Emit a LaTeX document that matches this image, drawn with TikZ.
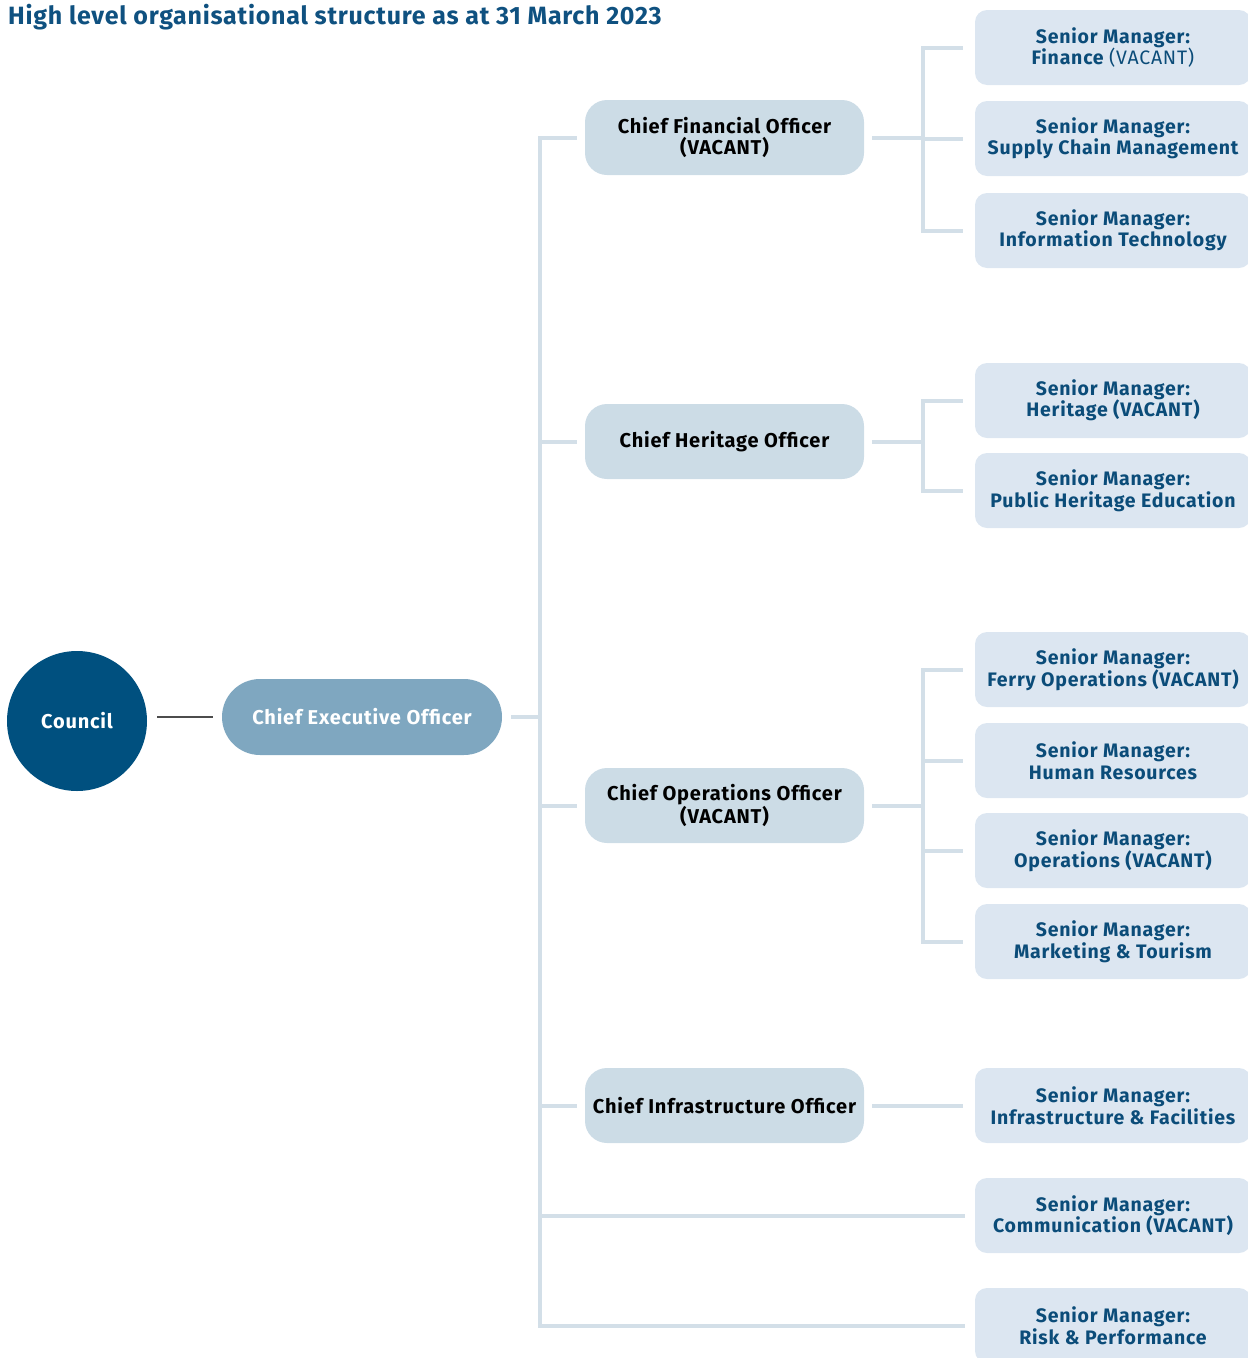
\documentclass[tikz,border=0pt]{standalone}
\usepackage{fontspec}
\setmainfont{Fira Sans}
\newfontfamily\orgfont[LetterSpace=4]{Fira Sans}
\newfontfamily\titlefont[LetterSpace=3]{Fira Sans}
\usepackage{tikz}
\usetikzlibrary{positioning}
\definecolor{navy}{HTML}{00507F}
\definecolor{ceoblue}{HTML}{7FA7C0}
\definecolor{chieffill}{HTML}{CCDCE6}
\definecolor{smfill}{HTML}{DCE6F1}
\definecolor{smtext}{HTML}{0B4C79}
\definecolor{linkcol}{HTML}{D3DFE8}
\definecolor{titleblue}{HTML}{0F5180}

\begin{document}
\begin{tikzpicture}[x=1pt, y=-1pt,
  chief/.style={fill=chieffill, rounded corners=22pt, minimum width=279pt, minimum height=75pt, inner sep=0pt, align=center, font=\orgfont\bfseries\fontsize{20}{21.5}\selectfont},
  senior/.style={fill=smfill, rounded corners=12pt, minimum width=276pt, minimum height=75pt, inner sep=0pt, align=center, text=smtext, font=\orgfont\bfseries\fontsize{19.5}{21.5}\selectfont},
  link/.style={draw=linkcol, line width=4pt}]
\useasboundingbox (0,0) rectangle (1248,1358);
\node[anchor=base west, inner sep=0pt, text=titleblue, font=\titlefont\bfseries\fontsize{25}{28}\selectfont] (title) at (8,24) {High level organisational structure as at 31 March 2023};

% left part
\node[circle, fill=navy, minimum size=140pt, inner sep=0pt, text=white, font=\orgfont\bfseries\fontsize{20}{22}\selectfont] (council) at (77,721) {Council};
\node[fill=ceoblue, rounded corners=38pt, minimum width=280pt, minimum height=76pt, inner sep=0pt, text=white, font=\orgfont\bfseries\fontsize{20}{22}\selectfont] (ceo) at (362,717) {Chief Executive Officer};

% chiefs
\node[chief] (cfo) at (724.5,137.5) {Chief Financial Officer\\(VACANT)};
\node[chief] (cho) at (724.5,441.5) {Chief Heritage Officer};
\node[chief] (coo) at (724.5,805.5) {Chief Operations Officer\\(VACANT)};
\node[chief] (cio) at (724.5,1105.5) {Chief Infrastructure Officer};

% senior managers
\node[senior] (fin) at (1113,47.5) {Senior Manager:\\Finance {\mdseries(VACANT)}};
\node[senior] (scm) at (1113,138.5) {Senior Manager:\\Supply Chain Management};
\node[senior] (it) at (1113,230.5) {Senior Manager:\\Information Technology};
\node[senior] (her) at (1113,400.5) {Senior Manager:\\Heritage (VACANT)};
\node[senior] (phe) at (1113,490.5) {Senior Manager:\\Public Heritage Education};
\node[senior] (ferry) at (1113,669.5) {Senior Manager:\\Ferry Operations (VACANT)};
\node[senior] (hr) at (1113,760.5) {Senior Manager:\\Human Resources};
\node[senior] (ops) at (1113,850.5) {Senior Manager:\\Operations (VACANT)};
\node[senior] (mkt) at (1113,941.5) {Senior Manager:\\Marketing \& Tourism};
\node[senior] (infra) at (1113,1105.5) {Senior Manager:\\Infrastructure \& Facilities};
\node[senior] (comm) at (1113,1215.5) {Senior Manager:\\Communication (VACANT)};
\node[senior] (risk) at (1113,1325.5) {Senior Manager:\\Risk \& Performance};

\coordinate (stem) at (540,717);
\coordinate (brk) at (923,0);

% connectors
\draw[black!70, line width=1.2pt, shorten <=10pt, shorten >=9pt] (council.east |- ceo) -- (ceo);
\draw[link, shorten <=9pt] (ceo) -- (stem);
\draw[link, shorten <=8pt, shorten >=10pt] (cfo) -- (stem |- cfo) -- (stem |- risk) -- (risk);
\foreach \c in {cho,coo,cio} \draw[link, shorten >=8pt] (stem |- \c) -- (\c);
\draw[link, shorten >=10pt] (stem |- comm) -- (comm);

\draw[link, shorten <=8pt] (cfo) -- (brk |- cfo);
\draw[link, shorten <=12pt, shorten >=12pt] (fin) -- (brk |- fin) -- (brk |- it) -- (it);
\draw[link, shorten >=12pt] (brk |- scm) -- (scm);

\draw[link, shorten <=8pt] (cho) -- (brk |- cho);
\draw[link, shorten <=12pt, shorten >=12pt] (her) -- (brk |- her) -- (brk |- phe) -- (phe);

\draw[link, shorten <=8pt] (coo) -- (brk |- coo);
\draw[link, shorten <=12pt, shorten >=12pt] (ferry) -- (brk |- ferry) -- (brk |- mkt) -- (mkt);
\foreach \s in {hr,ops} \draw[link, shorten >=12pt] (brk |- \s) -- (\s);

\draw[link, shorten <=8pt, shorten >=12pt] (cio) -- (infra);
\end{tikzpicture}
\end{document}
